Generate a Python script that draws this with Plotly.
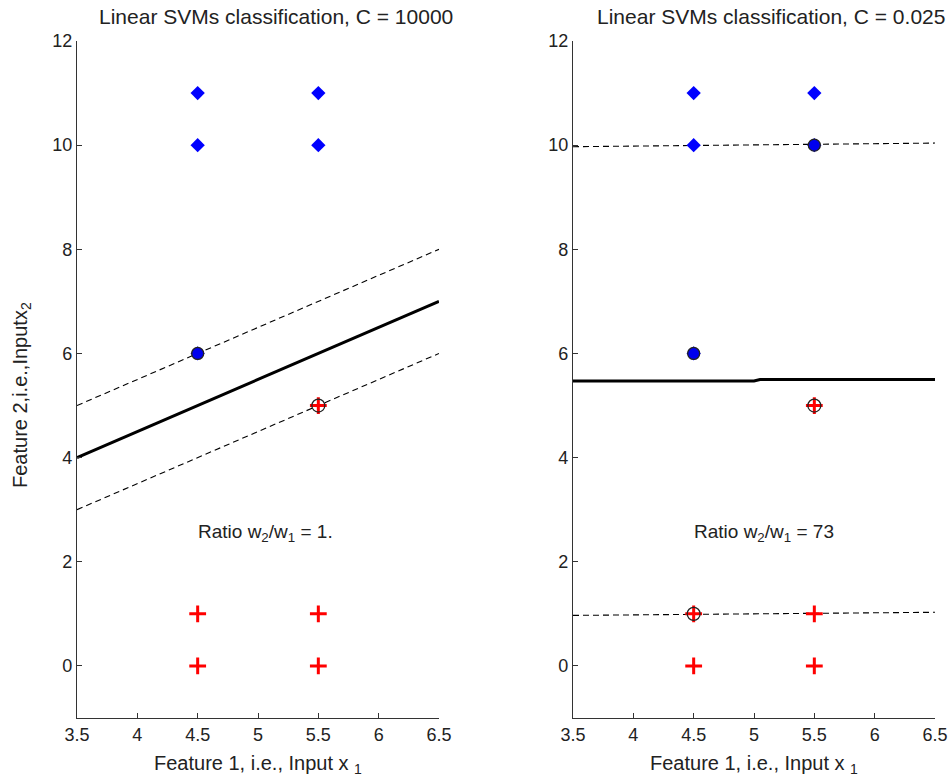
import plotly.graph_objects as go

# ---- data ----
blue_x = [4.5, 4.5, 5.5, 5.5, 4.5]
blue_y = [10, 11, 10, 11, 6]
red_x = [4.5, 4.5, 5.5, 5.5, 5.5]
red_y = [0, 1, 0, 1, 5]

# left panel (C = 10000)
left_line_x = [3.5, 6.5]
left_boundary_y = [4.0, 7.0]
left_upper_y = [5.0, 8.0]
left_lower_y = [3.0, 6.0]
left_sv_blue_x = [4.5]
left_sv_blue_y = [6]
left_sv_red_x = [5.5]
left_sv_red_y = [5]

# right panel (C = 0.025)
right_boundary_x = [3.5, 5.0, 5.05, 6.5]
right_boundary_y = [5.47, 5.47, 5.5, 5.5]
right_margin_x = [3.5, 4.0, 4.5, 5.0, 5.5, 6.0, 6.5]
right_upper_y = [9.97, 9.98, 10.0, 10.01, 10.02, 10.03, 10.04]
right_lower_y = [0.97, 0.98, 0.99, 1.0, 1.01, 1.02, 1.03]
right_sv_blue_x = [4.5, 5.5]
right_sv_blue_y = [6, 10]
right_sv_red_x = [5.5, 4.5]
right_sv_red_y = [5, 1]

titles = ["Linear SVMs classification, C = 10000", "Linear SVMs classification, C = 0.025"]
ratios = ["Ratio w<sub>2</sub>/w<sub>1</sub> = 1.", "Ratio w<sub>2</sub>/w<sub>1</sub> = 73"]
x_ticks = [3.5, 4, 4.5, 5, 5.5, 6, 6.5]
y_ticks = [0, 2, 4, 6, 8, 10, 12]

FONT = "Liberation Sans, Arial, sans-serif"
TXT = "#222222"

fig = go.Figure()


def add_panel(xa, ya, bx, by, ux, uy, lx, ly, svbx, svby, svrx, svry):
    fig.add_trace(go.Scatter(x=ux, y=uy, mode="lines", xaxis=xa, yaxis=ya,
                             line=dict(color="black", width=1.1, dash="6px,4px"), showlegend=False))
    fig.add_trace(go.Scatter(x=lx, y=ly, mode="lines", xaxis=xa, yaxis=ya,
                             line=dict(color="black", width=1.1, dash="6px,4px"), showlegend=False))
    fig.add_trace(go.Scatter(x=bx, y=by, mode="lines", xaxis=xa, yaxis=ya,
                             line=dict(color="black", width=3), showlegend=False))
    fig.add_trace(go.Scatter(x=blue_x, y=blue_y, mode="markers", xaxis=xa, yaxis=ya,
                             marker=dict(symbol="diamond", size=11, color="#0000ff",
                                         line=dict(width=0)), showlegend=False))
    fig.add_trace(go.Scatter(x=red_x, y=red_y, mode="markers", xaxis=xa, yaxis=ya,
                             marker=dict(symbol="cross-thin", size=12,
                                         line=dict(width=3, color="#ff0000")), showlegend=False))
    fig.add_trace(go.Scatter(x=svbx, y=svby, mode="markers", xaxis=xa, yaxis=ya,
                             marker=dict(symbol="circle", size=12, color="#0000ee",
                                         line=dict(width=1.3, color="#222222")), showlegend=False))
    fig.add_trace(go.Scatter(x=svrx, y=svry, mode="markers", xaxis=xa, yaxis=ya,
                             marker=dict(symbol="circle-open", size=13, color="#222222",
                                         line=dict(width=1.3, color="#222222")), showlegend=False))


add_panel("x", "y", left_line_x, left_boundary_y, left_line_x, left_upper_y,
          left_line_x, left_lower_y, left_sv_blue_x, left_sv_blue_y, left_sv_red_x, left_sv_red_y)
add_panel("x2", "y2", right_boundary_x, right_boundary_y, right_margin_x, right_upper_y,
          right_margin_x, right_lower_y, right_sv_blue_x, right_sv_blue_y, right_sv_red_x, right_sv_red_y)

axis_common = dict(showline=True, linecolor="#333333", linewidth=1.2, ticks="inside",
                   ticklen=5, tickcolor="#333333", showgrid=False, zeroline=False,
                   tickfont=dict(family=FONT, size=18, color=TXT))

W, H = 951, 782
ml, mr, mt, mb = 77, 16, 41, 64
pw = W - ml - mr
ph = H - mt - mb

fig.update_layout(
    width=W, height=H,
    margin=dict(l=ml, r=mr, t=mt, b=mb, autoexpand=False),
    paper_bgcolor="white", plot_bgcolor="white",
    xaxis=dict(domain=[0, 362 / pw], range=[3.5, 6.5], tickvals=x_ticks,
               ticktext=[str(v) for v in x_ticks], anchor="y", **axis_common),
    yaxis=dict(domain=[0, 1], range=[-1, 12], tickvals=y_ticks, anchor="x", **axis_common),
    xaxis2=dict(domain=[496 / pw, 1], range=[3.5, 6.5], tickvals=x_ticks,
                ticktext=[str(v) for v in x_ticks], anchor="y2", **axis_common),
    yaxis2=dict(domain=[0, 1], range=[-1, 12], tickvals=y_ticks, anchor="x2", **axis_common),
)

annots = []
for i, (xa, x0) in enumerate([("x", 97), ("x2", 595)]):
    annots.append(dict(text=titles[i], xref="paper", yref="paper",
                       x=(x0 - ml) / pw, y=1 + (mt - 16) / ph, xanchor="left", yanchor="middle",
                       showarrow=False, font=dict(family=FONT, size=21, color=TXT)))
    annots.append(dict(text="Feature 1, i.e., Input x <sub>1</sub>", xref=xa + " domain", yref="paper",
                       x=0.5, y=-(764 - (H - mb)) / ph, xanchor="center", yanchor="middle",
                       showarrow=False, font=dict(family=FONT, size=20, color=TXT)))
annots.append(dict(text=ratios[0], xref="x", yref="y", x=5.06, y=2.55, showarrow=False,
                   font=dict(family=FONT, size=19, color=TXT)))
annots.append(dict(text=ratios[1], xref="x2", yref="y2", x=5.08, y=2.55, showarrow=False,
                   font=dict(family=FONT, size=19, color=TXT)))
annots.append(dict(text="Feature 2,i.e.,Inputx<sub>2</sub>", xref="paper", yref="paper",
                   x=(22 - ml) / pw, y=(H - mb - 395) / ph, textangle=-90,
                   xanchor="center", yanchor="middle", showarrow=False,
                   font=dict(family=FONT, size=20, color=TXT)))
fig.update_layout(annotations=annots)

fig.write_html("out.html", config={"displayModeBar": False},
               post_script="document.body.style.margin='0';document.body.style.overflow='hidden';")
